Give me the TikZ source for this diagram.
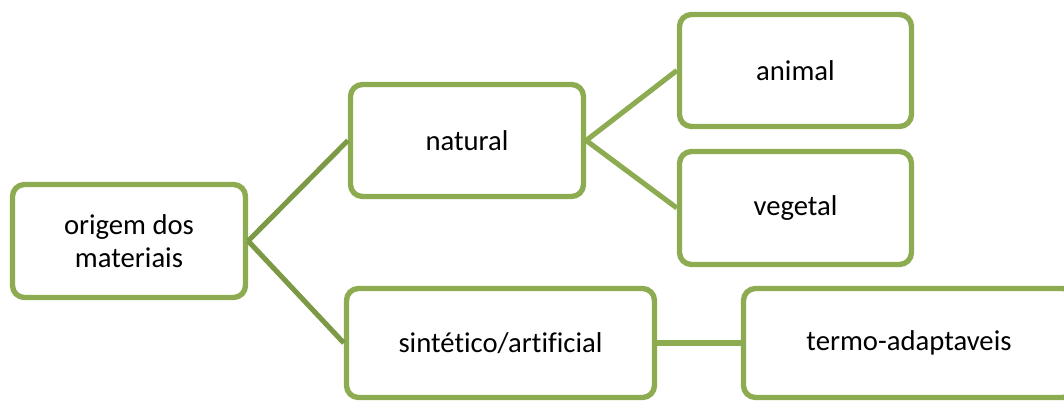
\documentclass[tikz,border=0pt]{standalone}
\usepackage{fontspec}
\setmainfont{Carlito}[Ligatures=NoCommon]
\definecolor{boxgreen}{HTML}{8DAB50}
\definecolor{linkdark}{HTML}{7C9A45}
\tikzset{
  mbox/.style={draw=boxgreen, line width=4pt, rounded corners=9pt, fill=white,
    align=center, font=\fontsize{21.5}{25}\selectfont, inner sep=0pt},
  link/.style={draw=boxgreen, line width=3.8pt},
  linkd/.style={draw=linkdark, line width=3.8pt}
}
\begin{document}
\begin{tikzpicture}[x=0.75pt,y=-0.75pt]
\useasboundingbox (0,0) rectangle (1064,403);
\clip (0,0) rectangle (1064,403);
\fill[white] (0,0) rectangle (1064,403);
\node[mbox, minimum width=233*0.75pt, minimum height=113*0.75pt] (orig) at (129,241) {origem dos\\materiais};
\node[mbox, minimum width=233*0.75pt, minimum height=112*0.75pt] (nat) at (467,140.5) {natural};
\node[mbox, minimum width=232*0.75pt, minimum height=112*0.75pt] (anim) at (795.5,70.5) {animal};
\node[mbox, minimum width=232*0.75pt, minimum height=113*0.75pt] (veg) at (795.5,208) {vegetal};
\node[mbox, minimum width=308*0.75pt, minimum height=109*0.75pt] (sint) at (500.5,343) {sintético/artificial};
\node[mbox, minimum width=331*0.75pt, minimum height=109*0.75pt] (termo) at (909,343) {termo-adaptaveis};
\draw[linkd] (orig.east) -- (nat.west);
\draw[linkd] (orig.east) -- (sint.west);
\draw[link] (nat.east) -- (anim.west);
\draw[link] (nat.east) -- (veg.west);
\draw[link] (sint.east) -- (termo.west);
\end{tikzpicture}
\end{document}
